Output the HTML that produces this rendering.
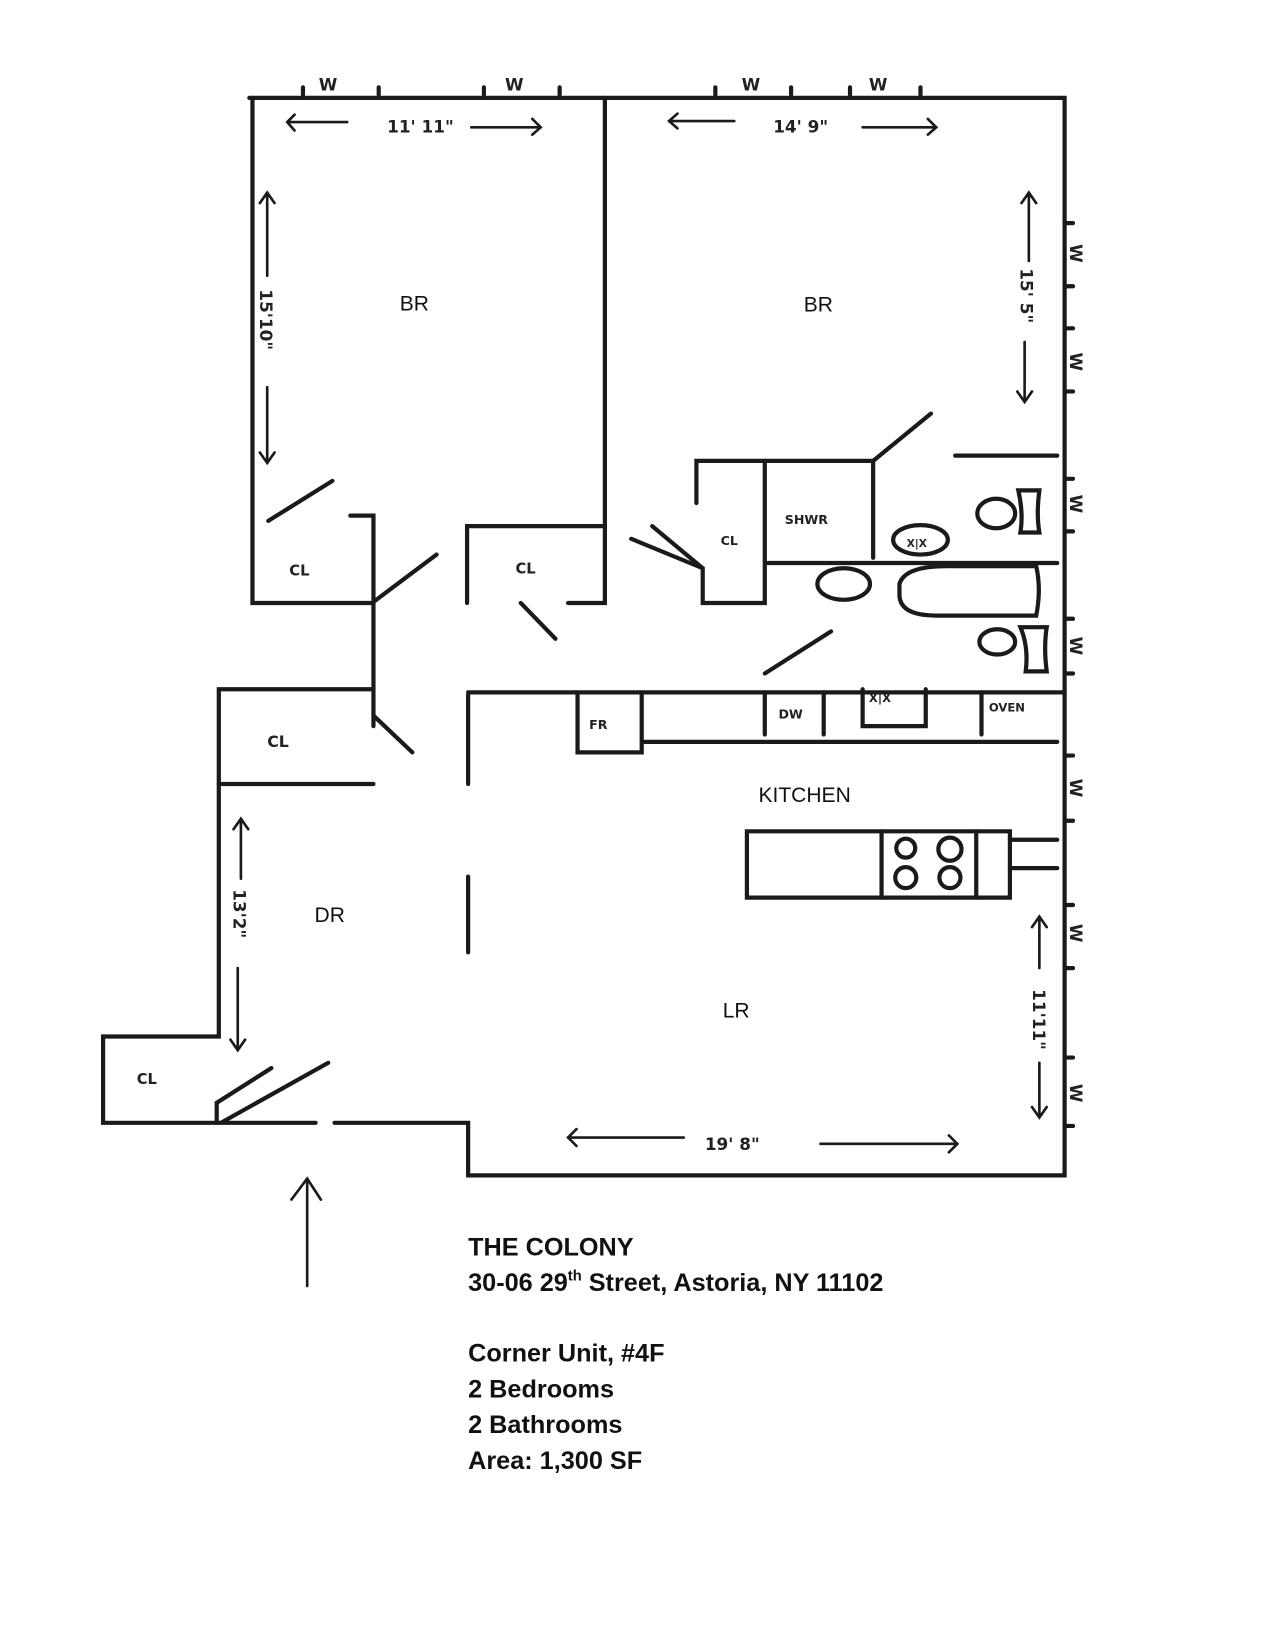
<!DOCTYPE html>
<html><head><meta charset="utf-8"><style>
html,body{margin:0;padding:0;background:#fff}
svg{display:block}
.h{font-family:"DejaVu Sans",sans-serif;font-weight:bold;fill:#222}
.l{font-family:"Liberation Sans",sans-serif;fill:#111}
.t{font-family:"Liberation Sans",sans-serif;font-weight:bold;fill:#111}
</style></head><body>
<svg width="1275" height="1650" viewBox="0 0 1212 1568" preserveAspectRatio="none" xmlns="http://www.w3.org/2000/svg">
<g stroke="#1a1a1a" stroke-width="4" fill="none" stroke-linecap="round">
<path d="M237 93 H1012 V1117 H445 V1067 H318"/>
<path d="M240 93 V573 H355"/>
<path d="M575 93 V573 H540"/>
<path d="M444 573 V500 H575"/>
<path d="M255 495 L316 457"/>
<path d="M333 490 H355 V690"/>
<path d="M355 572 L415 527"/>
<path d="M495 573 L528 607"/>
<path d="M208 745 V655 H355"/>
<path d="M208 745 H355"/>
<path d="M355 680 L392 715"/>
<path d="M208 745 V985 H98 V1067 H300"/>
<path d="M206 1067 V1048 L258 1015"/>
<path d="M210 1067 L312 1010"/>
<path d="M445 660 V745 M445 833 V905"/>
<path d="M445 658 H1012"/>
<path d="M612 705 H1005"/>
<path d="M549 658 V715 H610 V658"/>
<path d="M727 658 V698 M783 658 V698 M933 658 V698"/>
<path d="M820 655 V690 H880 V655"/>
<path d="M727 640 L790 600"/>
<path d="M710 790 H960 V853 H710 Z"/>
<path d="M838 790 V853 M928 790 V853"/>
<path d="M960 798 H1005 M960 825 H1005"/>
<path d="M662 478 V438 H830 L885 393"/>
<path d="M727 438 V533 M830 438 V530"/>
<path d="M727 533 V573 H668 V540 L600 512 M668 540 L620 500"/>
<path d="M908 433 H1005"/>
<path d="M730 535 H1005"/>
<path d="M855 555 Q860 538 900 538 H985 Q990 560 985 585 H890 Q855 585 855 565 Z"/>
<ellipse cx="947" cy="488" rx="18" ry="14"/>
<path d="M968 466 H988 Q985 488 988 506 H970 Q973 488 968 466 Z"/>
<ellipse cx="875" cy="513" rx="26" ry="14"/>
<ellipse cx="802" cy="555" rx="25" ry="15"/>
<ellipse cx="948" cy="610" rx="17" ry="12"/>
<path d="M970 596 H995 Q992 615 995 638 H975 Q978 615 970 596 Z"/>
<circle cx="861" cy="806" r="9"/><circle cx="903" cy="807" r="11"/>
<circle cx="861" cy="834" r="10"/><circle cx="903" cy="834" r="10"/>
<path d="M1012 212 H1020 M1012 272 H1020 M1012 312 H1020 M1012 372 H1020 M1012 455 H1020 M1012 505 H1020 M1012 588 H1020 M1012 640 H1020 M1012 718 H1020 M1012 780 H1020 M1012 860 H1020 M1012 920 H1020 M1012 1005 H1020 M1012 1070 H1020"/>
<path d="M288 83 V90 M360 83 V90 M460 83 V90 M532 83 V90 M680 83 V90 M752 83 V90 M808 83 V90 M875 83 V90"/>
<g stroke-width="2.5">
<path d="M274 116 H330 M280 109 L273 116 L280 124"/>
<path d="M448 121 H514 M506 113 L514 121 L506 128"/>
<path d="M636 115 H698 M644 108 L636 115 L644 122"/>
<path d="M820 121 H890 M882 113 L890 121 L882 128"/>
<path d="M254 185 V262 M247 193 L254 183 L261 193"/>
<path d="M254 368 V438 M247 430 L254 440 L261 430"/>
<path d="M978 185 V248 M971 193 L978 183 L985 193"/>
<path d="M974 325 V380 M967 372 L974 382 L981 372"/>
<path d="M229 780 V835 M222 788 L229 778 L236 788"/>
<path d="M226 920 V996 M219 988 L226 998 L233 988"/>
<path d="M988 873 V920 M981 881 L988 871 L995 881"/>
<path d="M988 1010 V1060 M981 1052 L988 1062 L995 1052"/>
<path d="M540 1081 H650 M548 1073 L540 1081 L548 1089"/>
<path d="M780 1087 H910 M902 1079 L910 1087 L902 1095"/>
<path d="M292 1222 V1120 M277 1140 L292 1120 L305 1140"/>
</g>
</g>
<g class="h" font-size="16">
<text x="303" y="86">W</text><text x="480" y="86">W</text><text x="705" y="86">W</text><text x="826" y="86">W</text>
<text x="368" y="126">11' 11"</text><text x="735" y="126">14' 9"</text>
<text x="670" y="1093">19' 8"</text>
<text x="275" y="547" font-size="14">CL</text><text x="490" y="545" font-size="14">CL</text>
<text x="254" y="710" font-size="15">CL</text><text x="130" y="1030" font-size="14">CL</text>
<text x="685" y="518" font-size="12">CL</text>
<text x="746" y="498" font-size="12">SHWR</text>
<text x="740" y="683" font-size="12">DW</text><text x="560" y="693" font-size="12">FR</text>
<text x="940" y="676" font-size="11">OVEN</text><text x="826" y="667" font-size="11">X|X</text>
<text x="862" y="520" font-size="10">X|X</text>
</g>
<g class="h" font-size="16">
<text transform="translate(247,275) rotate(90)">15'10"</text>
<text transform="translate(970,255) rotate(90)">15' 5"</text>
<text transform="translate(222,845) rotate(90)">13'2"</text>
<text transform="translate(982,940) rotate(90)">11'11"</text>
<text transform="translate(1017,232) rotate(90)">W</text>
<text transform="translate(1017,335) rotate(90)">W</text>
<text transform="translate(1017,470) rotate(90)">W</text>
<text transform="translate(1017,605) rotate(90)">W</text>
<text transform="translate(1017,740) rotate(90)">W</text>
<text transform="translate(1017,878) rotate(90)">W</text>
<text transform="translate(1017,1030) rotate(90)">W</text>
</g>
<g class="l" font-size="20">
<text x="380" y="295">BR</text><text x="764" y="296">BR</text>
<text x="721" y="762">KITCHEN</text>
<text x="299" y="876">DR</text><text x="687" y="967">LR</text>
</g>
<g class="t" font-size="24">
<text x="445" y="1193">THE COLONY</text>
<text x="445" y="1227">30-06 29<tspan font-size="14" dy="-10">th</tspan><tspan dy="10"> Street, Astoria, NY 11102</tspan></text>
<text x="445" y="1294">Corner Unit, #4F</text>
<text x="445" y="1328">2 Bedrooms</text>
<text x="445" y="1362">2 Bathrooms</text>
<text x="445" y="1396">Area:  1,300 SF</text>
</g>
</svg>
</body></html>
